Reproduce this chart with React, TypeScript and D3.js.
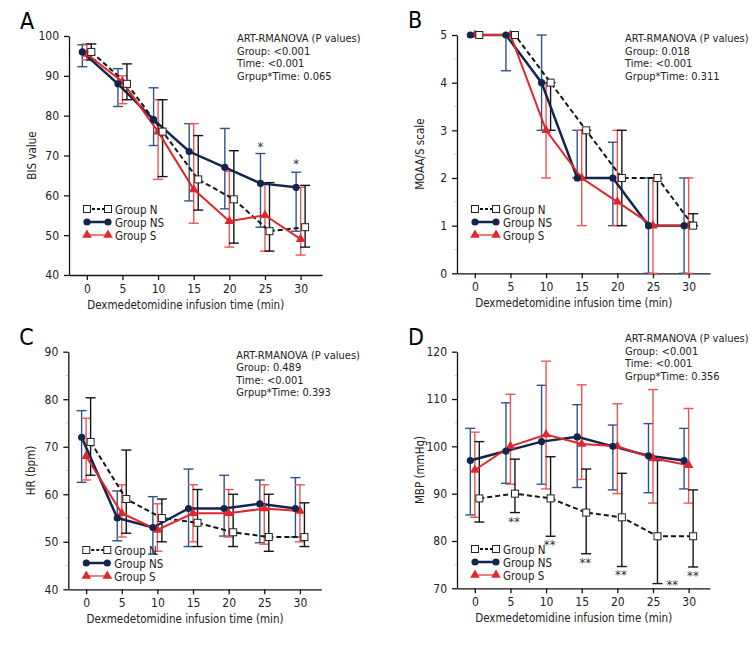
import { useEffect, useRef } from 'react';
import * as d3 from 'd3';

// time points (min)
const times = [0, 5, 10, 15, 20, 25, 30];
const groupNames = ['Group N', 'Group NS', 'Group S'];

// A: BIS value
const bisN = [96, 88, 76, 64, 59, 51, 52];
const bisNHi = [98, 93, 84, 75, 71.2, 63.2, 62.5];
const bisNLo = [94, 84, 64.7, 56.3, 48, 46, 47];
const bisNS = [96, 88, 79, 71, 67, 63, 62];
const bisNSHi = [97.8, 91.8, 87, 78, 76.8, 70.5, 65.8];
const bisNSLo = [92.3, 82.3, 72.5, 58.6, 56.6, 52, 51];
const bisS = [95.5, 88.5, 76, 61.5, 53.5, 55, 49];
const bisSHi = [98, 90, 84, 78, 66, 63, 62];
const bisSLo = [94, 83, 64, 53, 47, 46, 45];
const bisTicks = [40, 50, 60, 70, 80, 90, 100];
const bisStats = ['ART-RMANOVA (P values)', 'Group: <0.001', 'Time: <0.001', 'Grpup*Time: 0.065'];
const bisStarTimes = [25, 30];
const bisStarValues = [72.5, 68];

// B: MOAA/S scale
const moaaN = [5, 5, 4, 3, 2, 2, 1];
const moaaNHi = [5, 5, 4, 3, 3, 2, 1.25];
const moaaNLo = [5, 5, 3, 2, 1, 1, 1];
const moaaNS = [5, 5, 4, 2, 2, 1, 1];
const moaaNSHi = [5, 5, 5, 3, 2.75, 2, 2];
const moaaNSLo = [5, 4.25, 3, 2, 1, 0, 0];
const moaaS = [5, 5, 3, 2, 1.5, 1, 1];
const moaaSHi = [5, 5, 4, 3, 3, 2, 2];
const moaaSLo = [5, 5, 2, 1, 1, 0, 0];
const moaaTicks = [0, 1, 2, 3, 4, 5];
const moaaStats = ['ART-RMANOVA (P values)', 'Group: 0.018', 'Time: <0.001', 'Grpup*Time: 0.311'];

// C: HR (bpm)
const hrN = [71, 59, 55, 54, 52, 51, 51];
const hrNHi = [80.3, 69.3, 59, 61, 60, 60, 58.2];
const hrNLo = [64, 51.8, 50, 49, 49, 48, 49];
const hrNS = [72, 55, 53, 57, 57, 58, 57];
const hrNSHi = [77.6, 60.7, 59.5, 65.3, 64, 63, 63.5];
const hrNSLo = [62.5, 50.2, 47.4, 49, 51.2, 49.8, 51];
const hrS = [68, 56, 52.5, 56, 56, 57, 56.5];
const hrSHi = [76, 62, 58, 62, 61, 62, 62];
const hrSLo = [63, 51, 48, 50, 51, 49.5, 50];
const hrTicks = [40, 50, 60, 70, 80, 90];
const hrStats = ['ART-RMANOVA (P values)', 'Group: 0.489', 'Time: <0.001', 'Grpup*Time: 0.393'];

// D: MBP (mmHg)
const mbpN = [89, 90, 89, 86, 85, 81, 81];
const mbpNHi = [101, 97.3, 97.8, 95.2, 94.3, 97, 90.8];
const mbpNLo = [84, 86, 81, 77.3, 74.6, 71, 74.5];
const mbpNS = [97, 99, 101, 102, 100, 98, 97];
const mbpNSHi = [103.8, 109.2, 112.9, 108.8, 104.5, 104.8, 103.8];
const mbpNSLo = [85.5, 92.2, 92, 91.3, 90.8, 90.2, 91];
const mbpS = [95, 100, 102.5, 100.5, 100, 97.5, 96];
const mbpSHi = [103, 111, 118, 113, 109, 112, 108];
const mbpSLo = [85, 92, 91, 93, 90, 88, 88];
const mbpTicks = [70, 80, 90, 100, 110, 120];
const mbpStats = ['ART-RMANOVA (P values)', 'Group: <0.001', 'Time: <0.001', 'Grpup*Time: 0.356'];
const mbpStarTimes = [5.5, 10.5, 15.5, 20.5, 27.7, 30.6];
const mbpStarValues = [84.3, 79.4, 75.5, 73.1, 70.9, 72.8];

const FONT = "'DejaVu Sans', sans-serif";

interface Series {
  mean: number[];
  hi: number[];
  lo: number[];
}

interface PanelCfg {
  letter: string;
  left: number;
  top: number;
  bottom: number;
  yDomain: [number, number];
  yTicks: number[];
  minor: boolean;
  yTitle: string;
  stats: string[];
  statsY: number;
  legendY: number;
  series: Series[];
  stars?: { t: number[]; v: number[]; label: string };
}

const panels: PanelCfg[] = [
  {
    letter: 'A', left: 69, top: 36, bottom: 275, yDomain: [40, 100], yTicks: bisTicks, minor: false,
    yTitle: 'BIS value', stats: bisStats, statsY: 42, legendY: 209,
    series: [
      { mean: bisN, hi: bisNHi, lo: bisNLo },
      { mean: bisNS, hi: bisNSHi, lo: bisNSLo },
      { mean: bisS, hi: bisSHi, lo: bisSLo },
    ],
    stars: { t: bisStarTimes, v: bisStarValues, label: '*' },
  },
  {
    letter: 'B', left: 457, top: 35, bottom: 273.3, yDomain: [0, 5], yTicks: moaaTicks, minor: true,
    yTitle: 'MOAA/S scale', stats: moaaStats, statsY: 42, legendY: 209,
    series: [
      { mean: moaaN, hi: moaaNHi, lo: moaaNLo },
      { mean: moaaNS, hi: moaaNSHi, lo: moaaNSLo },
      { mean: moaaS, hi: moaaSHi, lo: moaaSLo },
    ],
  },
  {
    letter: 'C', left: 68.3, top: 351.7, bottom: 589.3, yDomain: [40, 90], yTicks: hrTicks, minor: true,
    yTitle: 'HR (bpm)', stats: hrStats, statsY: 358.5, legendY: 550,
    series: [
      { mean: hrN, hi: hrNHi, lo: hrNLo },
      { mean: hrNS, hi: hrNSHi, lo: hrNSLo },
      { mean: hrS, hi: hrSHi, lo: hrSLo },
    ],
  },
  {
    letter: 'D', left: 457, top: 351.7, bottom: 588.3, yDomain: [70, 120], yTicks: mbpTicks, minor: true,
    yTitle: 'MBP (mmHg)', stats: mbpStats, statsY: 342, legendY: 549,
    series: [
      { mean: mbpN, hi: mbpNHi, lo: mbpNLo },
      { mean: mbpNS, hi: mbpNSHi, lo: mbpNSLo },
      { mean: mbpS, hi: mbpSHi, lo: mbpSLo },
    ],
    stars: { t: mbpStarTimes, v: mbpStarValues, label: '**' },
  },
];

// N, NS, S styles
const lineColors = ['#151515', '#14254d', '#e3262b'];
const barColors = ['#151515', '#2d5489', '#ee5457'];
const dodge = [4.5, -4.5, 0];
const lineWidths = [2, 2.5, 2];

export default function App() {
  const svgRef = useRef<SVGSVGElement>(null);

  useEffect(() => {
    if (!svgRef.current) return;
    const svg = d3.select(svgRef.current);
    svg.selectAll('*').remove();

    const plotW = 253;

    panels.forEach((p) => {
      const g = svg.append('g')
        .style('font-family', FONT)
        .style('font-stretch', 'condensed');

      const x = d3.scaleLinear().domain([-2.5, 33]).range([p.left, p.left + plotW]);
      const y = d3.scaleLinear().domain(p.yDomain).range([p.bottom, p.top]);

      // panel letter
      g.append('text')
        .attr('x', p.left - 49)
        .attr('y', p.top - 7)
        .style('font-size', '23px')
        .text(p.letter);

      // minor ticks
      if (p.minor) {
        const step = p.yTicks[1] - p.yTicks[0];
        p.yTicks.slice(0, -1).forEach((t) => {
          g.append('line')
            .attr('x1', p.left - 3).attr('x2', p.left)
            .attr('y1', y(t + step / 2)).attr('y2', y(t + step / 2))
            .attr('stroke', '#d4d4d4').attr('stroke-width', 1);
        });
      }

      // y axis
      const yAxis = g.append('g')
        .attr('transform', `translate(${p.left},0)`)
        .call(d3.axisLeft(y).tickValues(p.yTicks).tickFormat((d) => String(d)).tickSize(5).tickPadding(5).tickSizeOuter(0));
      yAxis.select('.domain').attr('stroke', '#111').attr('stroke-width', 1.3);
      yAxis.selectAll('.tick line').attr('stroke', '#111').attr('stroke-width', 1.3);
      yAxis.selectAll('text').style('font-size', '12px').style('font-family', FONT).attr('fill', '#222');

      // x axis
      const xAxis = g.append('g')
        .attr('transform', `translate(0,${p.bottom})`)
        .call(d3.axisBottom(x).tickValues(times).tickFormat((d) => String(d)).tickSize(5).tickPadding(4).tickSizeOuter(0));
      xAxis.select('.domain').attr('stroke', '#111').attr('stroke-width', 1.3);
      xAxis.selectAll('.tick line').attr('stroke', '#111').attr('stroke-width', 1.3);
      xAxis.selectAll('text').style('font-size', '12px').style('font-family', FONT).attr('fill', '#222');

      // axis titles
      g.append('text')
        .attr('x', x(15) - 8)
        .attr('y', p.bottom + 34)
        .attr('text-anchor', 'middle')
        .style('font-size', '11.5px')
        .attr('fill', '#222')
        .text('Dexmedetomidine infusion time (min)');

      g.append('text')
        .attr('transform', `translate(${p.left - 33},${(p.top + p.bottom) / 2}) rotate(-90)`)
        .attr('text-anchor', 'middle')
        .style('font-size', '11.5px')
        .attr('fill', '#222')
        .text(p.yTitle);

      // stats
      p.stats.forEach((s, i) => {
        g.append('text')
          .attr('x', p.left + 168)
          .attr('y', p.statsY + i * 12.6)
          .style('font-size', '11px')
          .attr('fill', '#222')
          .text(s);
      });

      // error bars: NS, S, N
      [1, 2, 0].forEach((gi) => {
        const s = p.series[gi];
        times.forEach((t, i) => {
          if (s.hi[i] === s.lo[i]) return;
          const cx = x(t) + dodge[gi];
          const bar = g.append('g').attr('stroke', barColors[gi]).attr('stroke-width', 1.4);
          bar.append('line').attr('x1', cx).attr('x2', cx).attr('y1', y(s.hi[i])).attr('y2', y(s.lo[i]));
          bar.append('line').attr('x1', cx - 5).attr('x2', cx + 5).attr('y1', y(s.hi[i])).attr('y2', y(s.hi[i]));
          bar.append('line').attr('x1', cx - 5).attr('x2', cx + 5).attr('y1', y(s.lo[i])).attr('y2', y(s.lo[i]));
        });
      });

      // lines: N, NS, S
      [0, 1, 2].forEach((gi) => {
        const s = p.series[gi];
        const line = d3.line<number>()
          .x((_, i) => x(times[i]) + dodge[gi])
          .y((d) => y(d));
        g.append('path')
          .datum(s.mean)
          .attr('fill', 'none')
          .attr('stroke', lineColors[gi])
          .attr('stroke-width', lineWidths[gi])
          .attr('stroke-dasharray', gi === 0 ? '5,3' : null)
          .attr('d', line);
      });

      // markers
      const drawMarker = (gi: number, cx: number, cy: number, parent: any) => {
        if (gi === 0) {
          parent.append('rect')
            .attr('x', cx - 3.5).attr('y', cy - 3.5).attr('width', 7).attr('height', 7)
            .attr('fill', '#fff').attr('stroke', '#222').attr('stroke-width', 1);
        } else if (gi === 1) {
          parent.append('circle')
            .attr('cx', cx).attr('cy', cy).attr('r', 3.6)
            .attr('fill', lineColors[1]);
        } else {
          parent.append('path')
            .attr('d', d3.symbol().type(d3.symbolTriangle).size(40)())
            .attr('transform', `translate(${cx},${cy})`)
            .attr('fill', lineColors[2]);
        }
      };

      [2, 1, 0].forEach((gi) => {
        const s = p.series[gi];
        s.mean.forEach((v, i) => drawMarker(gi, x(times[i]) + dodge[gi], y(v), g));
      });

      // significance marks
      if (p.stars) {
        const st = p.stars;
        st.t.forEach((t, i) => {
          g.append('text')
            .attr('x', x(t) + (st.label === '*' ? -4.5 : 0))
            .attr('y', y(st.v[i]) + 5)
            .attr('text-anchor', 'middle')
            .style('font-size', '13px')
            .attr('fill', '#333')
            .text(st.label);
        });
      }

      // legend
      const lx = p.left + 18;
      groupNames.forEach((name, gi) => {
        const ly = p.legendY + gi * 13;
        g.append('line')
          .attr('x1', lx).attr('x2', lx + 21)
          .attr('y1', ly).attr('y2', ly)
          .attr('stroke', lineColors[gi])
          .attr('stroke-width', gi === 2 ? 1.2 : lineWidths[gi])
          .attr('stroke-dasharray', gi === 0 ? '3,2' : null);
        drawMarker(gi, lx, ly, g);
        drawMarker(gi, lx + 21, ly, g);
        g.append('text')
          .attr('x', lx + 28)
          .attr('y', ly + 4.5)
          .style('font-size', '11.5px')
          .attr('fill', '#222')
          .text(name);
      });
    });
  }, []);

  return (
    <svg
      ref={svgRef}
      width={756}
      height={660}
      style={{ position: 'absolute', left: 0, top: 0, background: '#fff' }}
    />
  );
}
